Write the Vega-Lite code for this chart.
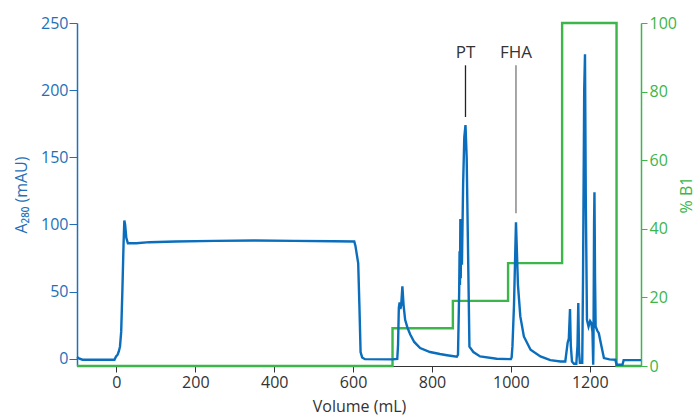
{
  "$schema": "https://vega.github.io/schema/vega-lite/v6.json",
  "width": 564,
  "height": 343,
  "autosize": {"type": "none"},
  "padding": {"left": 77, "top": 23, "right": 57, "bottom": 50},
  "config": {
    "view": {"stroke": null},
    "font": "Open Sans",
    "axis": {"grid": false, "labelFontSize": 16, "titleFontSize": 16, "titleFontWeight": "normal"}
  },
  "datasets": {
    "a280": [
      {"v": -100, "a": 1.3}, {"v": -95, "a": 0.2}, {"v": -86, "a": -0.7}, {"v": -40, "a": -0.8},
      {"v": -5, "a": -0.7}, {"v": -1, "a": 1.7}, {"v": 3, "a": 3}, {"v": 6, "a": 5.4},
      {"v": 9, "a": 9}, {"v": 12, "a": 20}, {"v": 15, "a": 50}, {"v": 18, "a": 85},
      {"v": 20, "a": 103}, {"v": 22, "a": 100}, {"v": 25, "a": 90}, {"v": 29, "a": 86},
      {"v": 50, "a": 86}, {"v": 84, "a": 86.8}, {"v": 150, "a": 87.3}, {"v": 250, "a": 87.8},
      {"v": 350, "a": 88}, {"v": 450, "a": 87.8}, {"v": 550, "a": 87.5}, {"v": 603, "a": 87.3},
      {"v": 606, "a": 84}, {"v": 613, "a": 71}, {"v": 616, "a": 40}, {"v": 619, "a": 5},
      {"v": 623, "a": 1}, {"v": 630, "a": -0.3}, {"v": 700, "a": -0.5}, {"v": 712, "a": -0.2},
      {"v": 714, "a": 10}, {"v": 716, "a": 38}, {"v": 718, "a": 42}, {"v": 720, "a": 37},
      {"v": 722, "a": 40}, {"v": 725, "a": 54}, {"v": 728, "a": 40}, {"v": 732, "a": 29},
      {"v": 738, "a": 23}, {"v": 745, "a": 18}, {"v": 755, "a": 12.5}, {"v": 770, "a": 8},
      {"v": 795, "a": 5}, {"v": 820, "a": 3.5}, {"v": 838, "a": 2.6}, {"v": 863, "a": 1.5},
      {"v": 866, "a": 3}, {"v": 869, "a": 50}, {"v": 870, "a": 80}, {"v": 871, "a": 55},
      {"v": 872, "a": 104}, {"v": 873, "a": 60}, {"v": 874, "a": 100}, {"v": 876, "a": 70},
      {"v": 879, "a": 130}, {"v": 882, "a": 165}, {"v": 885, "a": 174}, {"v": 888, "a": 150},
      {"v": 891, "a": 90}, {"v": 895, "a": 9}, {"v": 905, "a": 5}, {"v": 922, "a": 1.7},
      {"v": 964, "a": 0}, {"v": 1000, "a": -0.3}, {"v": 1002, "a": 1}, {"v": 1004, "a": 9},
      {"v": 1008, "a": 40}, {"v": 1013, "a": 101.6}, {"v": 1018, "a": 55}, {"v": 1024, "a": 31.5},
      {"v": 1033, "a": 16.6}, {"v": 1050, "a": 6.7}, {"v": 1075, "a": 1.7}, {"v": 1100, "a": -1},
      {"v": 1126, "a": -2}, {"v": 1138, "a": -2}, {"v": 1141, "a": 5}, {"v": 1144, "a": 12},
      {"v": 1147, "a": 15}, {"v": 1150, "a": 37}, {"v": 1152, "a": 10}, {"v": 1155, "a": -2},
      {"v": 1160, "a": -3.7}, {"v": 1166, "a": -3.7}, {"v": 1169, "a": 10}, {"v": 1171, "a": 41.5},
      {"v": 1173, "a": 5}, {"v": 1175, "a": -3}, {"v": 1181, "a": -3}, {"v": 1183, "a": 60},
      {"v": 1186, "a": 200}, {"v": 1188, "a": 226.7}, {"v": 1190, "a": 120}, {"v": 1193, "a": 29},
      {"v": 1197, "a": 24}, {"v": 1201, "a": 28}, {"v": 1204, "a": 26.6}, {"v": 1207, "a": 20},
      {"v": 1208.8, "a": -4.5}, {"v": 1209.5, "a": 10}, {"v": 1211, "a": 100}, {"v": 1212, "a": 124},
      {"v": 1213.5, "a": 60}, {"v": 1215, "a": 24}, {"v": 1219, "a": 21}, {"v": 1223, "a": 19},
      {"v": 1230, "a": 9}, {"v": 1236, "a": 0.5}, {"v": 1250, "a": -0.5}, {"v": 1265, "a": -0.7},
      {"v": 1268, "a": -4.5}, {"v": 1283, "a": -4.5}, {"v": 1286, "a": -1}, {"v": 1330, "a": -1}
    ],
    "b1": [
      {"v": -100, "b": 0}, {"v": 700, "b": 11}, {"v": 853, "b": 19}, {"v": 993, "b": 30},
      {"v": 1130, "b": 100}, {"v": 1268, "b": 0}, {"v": 1330, "b": 0}
    ],
    "notes": [
      {"v": 885, "top": 218.5, "bottom": 180, "ty": 228, "label": "PT", "c": "#222222"},
      {"v": 1013, "top": 218.5, "bottom": 108.4, "ty": 228, "label": "FHA", "c": "#777777"}
    ]
  },
  "layer": [
    {
      "data": {"name": "b1"},
      "mark": {"type": "line", "interpolate": "step-after", "color": "#3cb54a", "strokeWidth": 2.4},
      "encoding": {
        "x": {"field": "v", "type": "quantitative", "scale": {"domain": [-100, 1330], "nice": false, "zero": false},
          "axis": {"title": "Volume (mL)", "values": [0, 200, 400, 600, 800, 1000, 1200], "format": "d",
            "domainColor": "#333333", "tickColor": "#333333", "labelColor": "#333333", "titleColor": "#333333",
            "tickSize": 6, "labelPadding": 2, "titlePadding": 8}},
        "y": {"field": "b", "type": "quantitative", "scale": {"domain": [0, 100], "nice": false},
          "axis": {"orient": "right", "title": "% B1", "values": [0, 20, 40, 60, 80, 100],
            "domainColor": "#3cb54a", "tickColor": "#3cb54a", "labelColor": "#3cb54a", "titleColor": "#3cb54a",
            "domainWidth": 1.5, "tickSize": 6, "labelPadding": 2, "titleAngle": -90, "titlePadding": 18}}
      }
    },
    {
      "layer": [
        {
          "data": {"name": "a280"},
          "mark": {"type": "line", "color": "#0a6ebd", "strokeWidth": 2.4},
          "encoding": {
            "x": {"field": "v", "type": "quantitative", "scale": {"domain": [-100, 1330], "nice": false, "zero": false},
              "axis": {"title": "Volume (mL)", "values": [0, 200, 400, 600, 800, 1000, 1200], "format": "d",
                "domainColor": "#333333", "tickColor": "#333333", "labelColor": "#333333", "titleColor": "#333333",
                "tickSize": 6, "labelPadding": 2, "titlePadding": 8}},
            "y": {"field": "a", "type": "quantitative", "scale": {"domain": [-5.4, 250], "nice": false, "zero": false},
              "axis": {"title": "A₂₈₀ (mAU)", "values": [0, 50, 100, 150, 200, 250],
                "domainColor": "#1f70b8", "tickColor": "#1f70b8", "labelColor": "#1f70b8", "titleColor": "#1f70b8",
                "domainWidth": 1.5, "tickSize": 8, "labelPadding": 1, "titlePadding": 11}}
          }
        },
        {
          "data": {"name": "notes"},
          "mark": {"type": "rule", "strokeWidth": 1.3},
          "encoding": {
            "x": {"field": "v", "type": "quantitative"},
            "y": {"field": "top", "type": "quantitative"},
            "y2": {"field": "bottom"},
            "color": {"field": "c", "type": "nominal", "scale": null}
          }
        },
        {
          "data": {"name": "notes"},
          "mark": {"type": "text", "fontSize": 17, "color": "#333333", "baseline": "middle"},
          "encoding": {
            "x": {"field": "v", "type": "quantitative"},
            "y": {"field": "ty", "type": "quantitative"},
            "text": {"field": "label"}
          }
        }
      ]
    }
  ],
  "resolve": {"scale": {"y": "independent"}}
}
